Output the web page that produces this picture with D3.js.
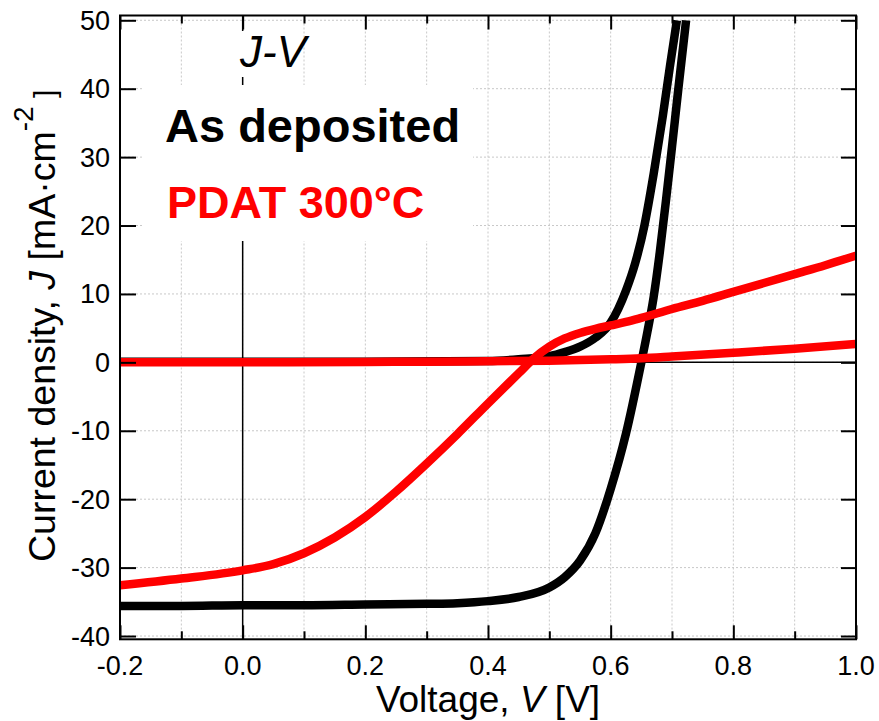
<!DOCTYPE html>
<html>
<head>
<meta charset="utf-8">
<script src="https://cdn.jsdelivr.net/npm/d3@7"></script>
<style>
  html, body { margin: 0; padding: 0; background: #fff; }
  svg { display: block; font-family: Arial, "Liberation Sans", sans-serif; }
</style>
</head>
<body>
<svg id="chart" width="879" height="721"></svg>
<script>
// ---- data ----
const blackLightV = [-0.2, -0.1, 0.0, 0.1, 0.2, 0.3, 0.35, 0.4, 0.45, 0.5, 0.525, 0.55, 0.575, 0.6, 0.625, 0.65, 0.66, 0.67, 0.68, 0.69, 0.7, 0.71, 0.723];
const blackLightJ = [-35.6, -35.6, -35.5, -35.5, -35.4, -35.3, -35.2, -34.9, -34.3, -32.9, -31.4, -29.0, -25.0, -18.5, -10.4, 0.0, 4.5, 9.5, 16.0, 23.5, 31.5, 39.7, 50.0];

const blackDarkV = [-0.2, 0.0, 0.2, 0.4, 0.45, 0.5, 0.525, 0.55, 0.575, 0.6, 0.625, 0.64, 0.655, 0.67, 0.685, 0.697, 0.708];
const blackDarkJ = [0.1, 0.1, 0.1, 0.2, 0.45, 0.9, 1.5, 2.3, 3.6, 5.8, 10.5, 14.5, 20.0, 27.5, 36.0, 43.5, 50.0];

const redLightV = [-0.2, -0.1, 0.0, 0.05, 0.1, 0.15, 0.2, 0.25, 0.3, 0.35, 0.4, 0.45, 0.475, 0.5, 0.525, 0.55, 0.575, 0.6, 0.625, 0.65, 0.7, 0.75, 0.8, 0.85, 0.9, 0.95, 1.0];
const redLightJ = [-32.6, -31.6, -30.4, -29.5, -27.9, -25.6, -22.6, -18.9, -14.8, -10.5, -6.0, -1.6, 0.6, 2.3, 3.5, 4.3, 4.9, 5.4, 5.9, 6.5, 7.8, 9.0, 10.3, 11.6, 12.9, 14.2, 15.6];

const redDarkV = [-0.2, 0.0, 0.2, 0.3, 0.4, 0.5, 0.6, 0.65, 0.7, 0.8, 0.9, 1.0];
const redDarkJ = [0.0, 0.0, 0.05, 0.1, 0.15, 0.25, 0.45, 0.6, 0.85, 1.4, 2.0, 2.7];

const xTicks = [-0.2, 0.0, 0.2, 0.4, 0.6, 0.8, 1.0];
const xMinorTicks = [-0.1, 0.1, 0.3, 0.5, 0.7, 0.9];
const yTicks = [-40, -30, -20, -10, 0, 10, 20, 30, 40, 50];
const legendLabels = ["As deposited", "PDAT 300°C"];

// ---- layout ----
const svg = d3.select("#chart");
const L = 120, R = 856, T = 15.5, B = 639.3;
const x = d3.scaleLinear().domain([-0.2, 1.0]).range([L, R]);
const y = d3.scaleLinear().domain([-40.48, 50.7]).range([B, T]);

const zip = (a, b) => a.map((v, i) => [v, b[i]]);

// gridlines
const grid = svg.append("g").attr("stroke", "#c8c8c8").attr("stroke-width", 1).attr("stroke-dasharray", "2,2");
const allX = xTicks.concat(xMinorTicks).filter(v => v > -0.2 && v < 1.0);
grid.selectAll("line.gx").data(allX).join("line")
  .attr("x1", d => x(d)).attr("x2", d => x(d)).attr("y1", T).attr("y2", B);
grid.selectAll("line.gy").data(yTicks).join("line")
  .attr("x1", L).attr("x2", R).attr("y1", d => y(d)).attr("y2", d => y(d));

// zero lines
svg.append("line").attr("x1", x(0)).attr("x2", x(0)).attr("y1", T).attr("y2", B).attr("stroke", "#000").attr("stroke-width", 1.5);
svg.append("line").attr("x1", L).attr("x2", R).attr("y1", y(0)).attr("y2", y(0)).attr("stroke", "#000").attr("stroke-width", 1.5);

// text boxes (white backgrounds)
svg.append("rect").attr("x", 236).attr("y", 31).attr("width", 66).attr("height", 46).attr("fill", "#fff");
svg.append("rect").attr("x", 143).attr("y", 85).attr("width", 330).attr("height", 156).attr("fill", "#fff");

// curves
svg.append("clipPath").attr("id", "clip").append("rect")
  .attr("x", L).attr("y", T).attr("width", R - L).attr("height", B - T);
const line = d3.line().x(d => x(d[0])).y(d => y(d[1])).curve(d3.curveMonotoneX);
const curves = svg.append("g").attr("clip-path", "url(#clip)").attr("fill", "none");
const series = [
  { v: blackDarkV, j: blackDarkJ, c: "#000" },
  { v: blackLightV, j: blackLightJ, c: "#000" },
  { v: redDarkV, j: redDarkJ, c: "#ff0000" },
  { v: redLightV, j: redLightJ, c: "#ff0000" }
];
series.forEach(s => {
  curves.append("path").attr("d", line(zip(s.v, s.j)))
    .attr("stroke", s.c).attr("stroke-width", 8.5).attr("stroke-linejoin", "round");
});

// axes frame
svg.append("rect").attr("x", L).attr("y", T).attr("width", R - L).attr("height", B - T)
  .attr("fill", "none").attr("stroke", "#000").attr("stroke-width", 2);

// ticks via d3 axes (inward)
const axB = svg.append("g").attr("transform", `translate(0,${B})`)
  .call(d3.axisTop(x).tickValues(xTicks).tickSize(14).tickFormat(""));
const axBm = svg.append("g").attr("transform", `translate(0,${B})`)
  .call(d3.axisTop(x).tickValues(xMinorTicks).tickSize(8).tickFormat(""));
const axT = svg.append("g").attr("transform", `translate(0,${T})`)
  .call(d3.axisBottom(x).tickValues(xTicks).tickSize(14).tickFormat(""));
const axTm = svg.append("g").attr("transform", `translate(0,${T})`)
  .call(d3.axisBottom(x).tickValues(xMinorTicks).tickSize(8).tickFormat(""));
const axL = svg.append("g").attr("transform", `translate(${L},0)`)
  .call(d3.axisRight(y).tickValues(yTicks).tickSize(16).tickFormat(""));
const axR = svg.append("g").attr("transform", `translate(${R},0)`)
  .call(d3.axisLeft(y).tickValues(yTicks).tickSize(15).tickFormat(""));
[axB, axBm, axT, axTm, axL, axR].forEach(g => {
  g.select(".domain").remove();
  g.selectAll(".tick line").attr("stroke", "#000").attr("stroke-width", 2);
});

// tick labels
const fmt = d => d3.format(".1f")(d).replace("\u2212", "-");
svg.append("g").selectAll("text").data(xTicks).join("text")
  .attr("x", d => x(d)).attr("y", 675).attr("text-anchor", "middle")
  .attr("font-size", 27).attr("fill", "#000").text(fmt);
svg.append("g").selectAll("text").data(yTicks).join("text")
  .attr("x", 110).attr("y", d => y(d) + 9.5).attr("text-anchor", "end")
  .attr("font-size", 27).attr("fill", "#000").text(d => String(d));

// axis titles
const xt = svg.append("text").attr("x", (L + R) / 2).attr("y", 712).attr("text-anchor", "middle")
  .attr("font-size", 37).attr("fill", "#000");
xt.append("tspan").text("Voltage, ");
xt.append("tspan").attr("font-style", "italic").text("V");
xt.append("tspan").text(" [V]");

const yt = svg.append("text").attr("transform", "translate(55,562) rotate(-90)")
  .attr("x", 0).attr("y", 0).attr("font-size", 37.5).attr("fill", "#000");
yt.append("tspan").text("Current density, ");
yt.append("tspan").attr("font-style", "italic").text("J");
yt.append("tspan").text(" [mA·cm");
yt.append("tspan").attr("font-size", 28).attr("dy", -22).text("-2");
yt.append("tspan").attr("font-size", 30).attr("dy", 22).text(" ]");

// in-plot labels
svg.append("text").attr("x", 240).attr("y", 67).attr("font-size", 44).attr("font-style", "italic")
  .attr("fill", "#000").text("J-V");
svg.append("text").attr("x", 165).attr("y", 142).attr("font-size", 47).attr("font-weight", "bold")
  .attr("fill", "#000").text(legendLabels[0]);
svg.append("text").attr("x", 167).attr("y", 218).attr("font-size", 45).attr("font-weight", "bold")
  .attr("fill", "#ff0000").text(legendLabels[1]);
</script>
</body>
</html>
